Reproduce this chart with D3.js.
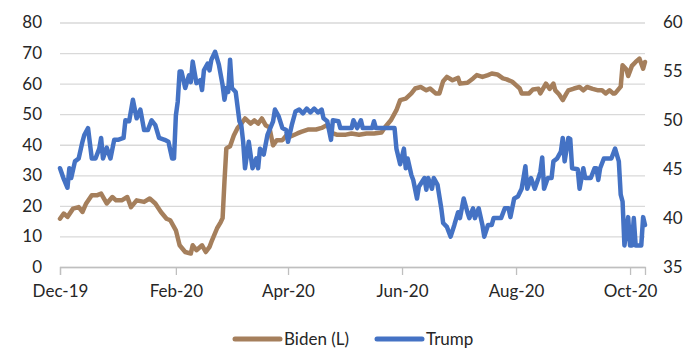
<!DOCTYPE html>
<html>
<head>
<meta charset="utf-8">
<script src="https://cdn.jsdelivr.net/npm/d3@7"></script>
<style>
  html, body { margin: 0; padding: 0; background: #fff; }
  svg text { font-family: Lato, "Open Sans", sans-serif; fill: #262626; }
</style>
</head>
<body>
<svg id="chart" width="695" height="356"></svg>
<script>
// ---- Data ----
const bidenDates = ["2019-12-01","2019-12-03","2019-12-05","2019-12-08","2019-12-11","2019-12-13","2019-12-15","2019-12-18","2019-12-21","2019-12-23","2019-12-26","2019-12-29","2019-12-31","2020-01-03","2020-01-06","2020-01-08","2020-01-11","2020-01-15","2020-01-18","2020-01-21","2020-01-24","2020-01-27","2020-01-29","2020-02-01","2020-02-03","2020-02-06","2020-02-09","2020-02-10","2020-02-12","2020-02-15","2020-02-17","2020-02-19","2020-02-20","2020-02-23","2020-02-25","2020-02-26","2020-02-27","2020-02-28","2020-03-01","2020-03-03","2020-03-05","2020-03-07","2020-03-09","2020-03-12","2020-03-14","2020-03-16","2020-03-18","2020-03-20","2020-03-22","2020-03-24","2020-03-26","2020-03-29","2020-03-31","2020-04-02","2020-04-06","2020-04-08","2020-04-12","2020-04-16","2020-04-19","2020-04-22","2020-04-24","2020-04-27","2020-05-02","2020-05-05","2020-05-09","2020-05-13","2020-05-17","2020-05-21","2020-05-23","2020-05-26","2020-05-29","2020-05-31","2020-06-03","2020-06-06","2020-06-08","2020-06-11","2020-06-14","2020-06-16","2020-06-19","2020-06-21","2020-06-23","2020-06-25","2020-06-28","2020-07-01","2020-07-02","2020-07-06","2020-07-09","2020-07-11","2020-07-14","2020-07-17","2020-07-19","2020-07-22","2020-07-25","2020-07-27","2020-07-30","2020-08-01","2020-08-03","2020-08-04","2020-08-08","2020-08-10","2020-08-13","2020-08-14","2020-08-17","2020-08-19","2020-08-21","2020-08-22","2020-08-24","2020-08-26","2020-08-28","2020-08-29","2020-09-01","2020-09-04","2020-09-06","2020-09-08","2020-09-11","2020-09-14","2020-09-16","2020-09-18","2020-09-20","2020-09-22","2020-09-23","2020-09-26","2020-09-27","2020-09-29","2020-09-30","2020-10-02","2020-10-04","2020-10-06","2020-10-08","2020-10-09"];
const bidenValues = [15.8,17.5,16.4,19.1,19.6,18.0,20.8,23.5,23.5,24.0,20.8,22.9,21.8,21.8,22.9,19.6,21.8,21.3,22.4,20.8,18.0,15.8,15.3,12.0,7.1,4.9,4.4,7.1,5.5,7.1,4.9,6.6,8.2,12.6,14.7,16.0,28.0,38.8,39.5,43.0,45.5,46.9,48.6,46.9,48.0,46.9,48.6,46.4,45.7,39.8,41.5,41.5,43.0,42.6,43.7,44.2,45.0,45.0,45.5,46.5,44.0,43.3,43.3,43.7,43.3,43.7,43.7,44.0,45.8,48.0,51.3,54.6,55.1,56.8,58.4,58.9,57.8,58.4,56.8,56.8,60.8,62.2,61.1,61.9,60.0,60.3,61.7,62.8,62.2,62.8,63.3,63.0,61.7,61.4,60.6,59.5,58.4,56.8,56.8,58.1,58.3,56.8,60.0,58.3,60.0,57.8,56.5,54.6,56.8,57.8,58.4,58.9,57.8,58.9,58.3,57.8,57.8,56.8,57.8,56.8,56.8,59.0,66.0,64.7,62.5,65.8,67.1,68.2,64.9,67.1];

const trumpDates = ["2019-12-01","2019-12-03","2019-12-05","2019-12-06","2019-12-07","2019-12-09","2019-12-11","2019-12-13","2019-12-14","2019-12-16","2019-12-18","2019-12-20","2019-12-22","2019-12-23","2019-12-24","2019-12-26","2019-12-28","2019-12-30","2020-01-01","2020-01-04","2020-01-05","2020-01-07","2020-01-09","2020-01-11","2020-01-13","2020-01-15","2020-01-17","2020-01-19","2020-01-21","2020-01-23","2020-01-26","2020-01-28","2020-01-30","2020-01-31","2020-02-01","2020-02-02","2020-02-03","2020-02-04","2020-02-06","2020-02-08","2020-02-09","2020-02-10","2020-02-12","2020-02-14","2020-02-15","2020-02-16","2020-02-18","2020-02-19","2020-02-20","2020-02-22","2020-02-24","2020-02-26","2020-02-27","2020-02-28","2020-02-29","2020-03-01","2020-03-02","2020-03-04","2020-03-06","2020-03-07","2020-03-08","2020-03-09","2020-03-11","2020-03-13","2020-03-15","2020-03-16","2020-03-17","2020-03-19","2020-03-21","2020-03-24","2020-03-25","2020-03-27","2020-03-29","2020-03-31","2020-04-01","2020-04-03","2020-04-05","2020-04-07","2020-04-09","2020-04-11","2020-04-13","2020-04-15","2020-04-17","2020-04-19","2020-04-20","2020-04-22","2020-04-24","2020-04-25","2020-04-28","2020-04-29","2020-05-02","2020-05-05","2020-05-06","2020-05-08","2020-05-10","2020-05-11","2020-05-16","2020-05-17","2020-05-18","2020-05-23","2020-05-28","2020-05-29","2020-05-31","2020-06-02","2020-06-03","2020-06-04","2020-06-06","2020-06-07","2020-06-09","2020-06-10","2020-06-13","2020-06-14","2020-06-15","2020-06-17","2020-06-18","2020-06-20","2020-06-22","2020-06-23","2020-06-25","2020-06-27","2020-06-29","2020-07-01","2020-07-02","2020-07-04","2020-07-06","2020-07-07","2020-07-09","2020-07-10","2020-07-12","2020-07-14","2020-07-15","2020-07-17","2020-07-19","2020-07-20","2020-07-24","2020-07-26","2020-07-28","2020-07-29","2020-07-31","2020-08-02","2020-08-04","2020-08-05","2020-08-06","2020-08-07","2020-08-09","2020-08-11","2020-08-13","2020-08-14","2020-08-15","2020-08-16","2020-08-18","2020-08-20","2020-08-21","2020-08-23","2020-08-25","2020-08-26","2020-08-27","2020-08-29","2020-08-30","2020-08-31","2020-09-03","2020-09-04","2020-09-06","2020-09-07","2020-09-10","2020-09-12","2020-09-13","2020-09-14","2020-09-15","2020-09-17","2020-09-21","2020-09-23","2020-09-25","2020-09-26","2020-09-27","2020-09-28","2020-09-30","2020-10-01","2020-10-02","2020-10-03","2020-10-04","2020-10-07","2020-10-08","2020-10-09"];
const trumpValues = [45.1,44.0,43.1,45.1,44.1,45.8,46.1,47.8,48.5,49.2,46.1,46.1,47.1,48.2,46.1,47.2,46.1,48.0,48.0,48.2,50.0,49.9,52.1,50.2,51.1,49.0,49.0,50.0,49.5,48.2,48.0,47.8,46.1,46.1,50.5,51.9,55.0,55.0,53.3,54.6,53.9,56.0,53.8,54.1,53.1,55.1,55.8,55.1,56.2,57.0,55.7,53.6,52.1,53.3,52.9,56.2,53.3,52.9,49.9,49.5,47.8,45.1,47.8,45.1,46.1,45.1,47.1,46.5,48.5,49.9,51.1,50.4,49.2,49.0,47.8,49.5,50.9,51.1,50.7,51.2,50.8,51.2,50.8,51.1,50.2,49.9,48.0,50.0,49.9,49.2,49.2,49.2,50.0,49.2,50.0,49.2,49.2,49.9,49.2,49.2,49.2,47.1,45.5,47.1,45.1,46.1,44.4,43.9,42.0,43.2,44.1,42.9,44.1,43.0,44.1,43.4,41.0,39.5,39.1,38.1,39.3,40.6,40.0,42.0,40.6,40.0,41.0,40.0,41.0,39.3,38.1,39.3,39.3,40.0,40.0,41.0,41.0,40.1,42.0,42.2,43.0,44.1,45.3,43.0,44.1,43.0,44.1,44.7,46.2,43.0,44.1,44.1,45.8,46.1,46.8,48.2,45.8,48.2,48.1,45.1,45.0,43.0,45.1,44.1,44.1,45.1,45.1,43.9,45.1,46.1,46.1,47.1,45.8,42.4,41.7,37.2,40.1,37.2,37.2,40.0,37.2,37.2,40.1,39.3];

const leftTicks = [0, 10, 20, 30, 40, 50, 60, 70, 80];
const rightTicks = [35, 40, 45, 50, 55, 60];
const xTickDates = ["2019-12-01","2020-02-01","2020-04-01","2020-06-01","2020-08-01","2020-10-01"];
const xDomain = ["2019-12-01","2020-10-09"];
const seriesNames = ["Biden (L)", "Trump"];
const seriesColors = ["#A57F5C", "#4472C4"];

// ---- Drawing ----
const parse = d3.timeParse("%Y-%m-%d");
const svg = d3.select("#chart");
const plot = { left: 60, right: 645, top: 22.5, bottom: 267 };
const FS = 17;

const x = d3.scaleTime().domain(xDomain.map(parse)).range([plot.left, plot.right]);
const yL = d3.scaleLinear().domain([0, 80]).range([plot.bottom, plot.top]);
const yR = d3.scaleLinear().domain([35, 60]).range([plot.bottom, plot.top]);

// gridlines
svg.append("g")
  .attr("transform", `translate(${plot.left},0)`)
  .call(d3.axisLeft(yL).tickValues(leftTicks).tickSize(-(plot.right - plot.left)).tickFormat(""))
  .call(g => g.select(".domain").remove())
  .call(g => g.selectAll("line").attr("stroke", "#D9D9D9").attr("stroke-width", 1.3));

// left axis labels
svg.append("g")
  .attr("transform", `translate(${plot.left},0)`)
  .call(d3.axisLeft(yL).tickValues(leftTicks).tickSize(0).tickPadding(18))
  .call(g => g.select(".domain").remove())
  .call(g => g.selectAll("text").attr("font-size", FS).attr("font-family", "Lato"));

// right axis labels
svg.append("g")
  .attr("transform", `translate(${plot.right},0)`)
  .call(d3.axisRight(yR).tickValues(rightTicks).tickSize(0).tickPadding(18))
  .call(g => g.select(".domain").remove())
  .call(g => g.selectAll("text").attr("font-size", FS).attr("font-family", "Lato"));

// x axis
svg.append("g")
  .attr("transform", `translate(0,${plot.bottom})`)
  .call(d3.axisBottom(x).tickValues(xTickDates.map(parse)).tickSize(8).tickPadding(10)
        .tickFormat(d3.timeFormat("%b-%y")))
  .call(g => g.select(".domain").attr("stroke", "#BFBFBF").attr("stroke-width", 1.3))
  .call(g => g.selectAll(".tick line").attr("stroke", "#BFBFBF").attr("stroke-width", 1.3))
  .call(g => g.selectAll("text").attr("font-size", FS).attr("font-family", "Lato"));

const biden = bidenDates.map((d, i) => ({ date: parse(d), value: bidenValues[i] }));
const trump = trumpDates.map((d, i) => ({ date: parse(d), value: trumpValues[i] }));

const lineL = d3.line().x(d => x(d.date)).y(d => yL(d.value));
const lineR = d3.line().x(d => x(d.date)).y(d => yR(d.value));

svg.append("path").datum(biden).attr("d", lineL)
  .attr("fill", "none").attr("stroke", seriesColors[0]).attr("stroke-width", 4.5)
  .attr("stroke-linejoin", "round").attr("stroke-linecap", "round");
svg.append("path").datum(trump).attr("d", lineR)
  .attr("fill", "none").attr("stroke", seriesColors[1]).attr("stroke-width", 4.5)
  .attr("stroke-linejoin", "round").attr("stroke-linecap", "round");

// legend
const legendItems = [
  { name: seriesNames[0], color: seriesColors[0], x0: 233 },
  { name: seriesNames[1], color: seriesColors[1], x0: 375 }
];
const lg = svg.append("g");
legendItems.forEach(it => {
  lg.append("line").attr("x1", it.x0 + 2).attr("x2", it.x0 + 47).attr("y1", 339).attr("y2", 339)
    .attr("stroke", it.color).attr("stroke-width", 5).attr("stroke-linecap", "round");
  lg.append("text").attr("x", it.x0 + 51).attr("y", 345).attr("font-size", FS)
    .attr("font-family", "Lato").text(it.name);
});
</script>
</body>
</html>
